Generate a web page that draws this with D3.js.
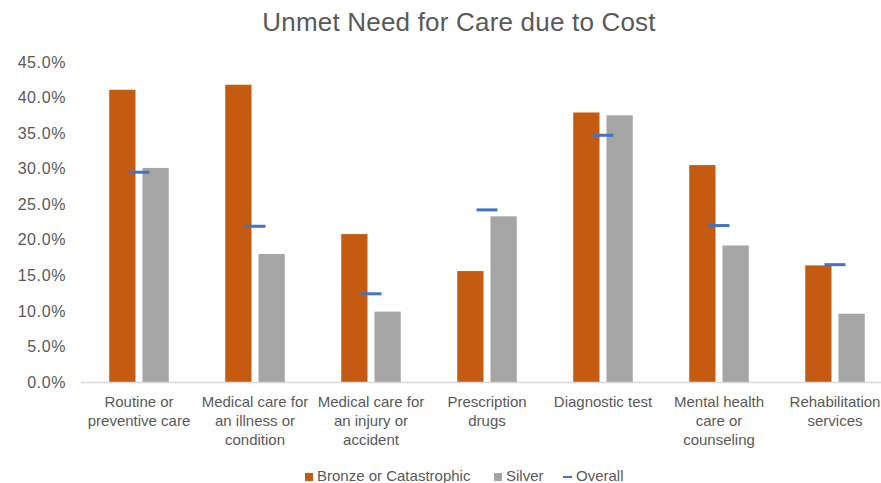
<!DOCTYPE html>
<html>
<head>
<meta charset="utf-8">
<script src="https://cdn.jsdelivr.net/npm/d3@7"></script>
<style>
  html, body { margin: 0; padding: 0; background: #fff; }
  svg { display: block; font-family: "Liberation Sans", Arial, sans-serif; }
</style>
</head>
<body>
<svg id="chart" width="881" height="483"></svg>
<script>
const title = "Unmet Need for Care due to Cost";
const categories = [
  "Routine or preventive care",
  "Medical care for an illness or condition",
  "Medical care for an injury or accident",
  "Prescription drugs",
  "Diagnostic test",
  "Mental health care or counseling",
  "Rehabilitation services"
];
const categoryLabelLines = [
  ["Routine or", "preventive care"],
  ["Medical care for", "an illness or", "condition"],
  ["Medical care for", "an injury or", "accident"],
  ["Prescription", "drugs"],
  ["Diagnostic test"],
  ["Mental health", "care or", "counseling"],
  ["Rehabilitation", "services"]
];
const seriesNames = ["Bronze or Catastrophic", "Silver", "Overall"];
const bronze  = [0.411, 0.418, 0.208, 0.156, 0.379, 0.305, 0.164];
const silver  = [0.301, 0.180, 0.099, 0.233, 0.375, 0.192, 0.096];
const overall = [0.295, 0.219, 0.124, 0.242, 0.347, 0.220, 0.165];
const yTicks = [0, 0.05, 0.10, 0.15, 0.20, 0.25, 0.30, 0.35, 0.40, 0.45];

const colors = { bronze: "#C55A11", silver: "#A5A5A5", overall: "#4472C4" };
const textColor = "#595959";

const svg = d3.select("#chart");

const plotLeft = 81, plotRight = 893, plotTop = 62, plotBottom = 382;

const x0 = d3.scaleBand().domain(categories).range([plotLeft, plotRight])
  .paddingInner(0.487).paddingOuter(0.2435);
const x1 = d3.scaleBand().domain(["bronze", "silver"]).range([0, x0.bandwidth()])
  .paddingInner(0.21).paddingOuter(0);
const y = d3.scaleLinear().domain([0, 0.45]).range([plotBottom, plotTop]);

// Title
svg.append("text")
  .attr("x", 459).attr("y", 31)
  .attr("text-anchor", "middle")
  .attr("fill", textColor)
  .style("font-size", "26px")
  .style("letter-spacing", "0.2px")
  .text(title);

// Y axis labels
const yAxis = d3.axisLeft(y).tickValues(yTicks).tickFormat(d3.format(".1%")).tickSize(0).tickPadding(0);
const yg = svg.append("g").attr("transform", `translate(66,0)`).call(yAxis);
yg.select(".domain").remove();
yg.selectAll("text").attr("fill", textColor).style("font-size", "16px")
  .style("letter-spacing", "0.6px")
  .style("font-family", "'Liberation Sans', Arial, sans-serif");

// Bars
const groups = svg.append("g").selectAll("g").data(categories).join("g")
  .attr("transform", d => `translate(${x0(d)},0)`);

groups.append("rect")
  .attr("x", x1("bronze")).attr("width", x1.bandwidth())
  .attr("y", (d, i) => y(bronze[i])).attr("height", (d, i) => y(0) - y(bronze[i]))
  .attr("fill", colors.bronze);

groups.append("rect")
  .attr("x", x1("silver")).attr("width", x1.bandwidth())
  .attr("y", (d, i) => y(silver[i])).attr("height", (d, i) => y(0) - y(silver[i]))
  .attr("fill", colors.silver);

// X axis line
svg.append("line")
  .attr("x1", plotLeft).attr("x2", plotRight)
  .attr("y1", y(0) + 0.5).attr("y2", y(0) + 0.5)
  .attr("stroke", "#D9D9D9").attr("stroke-width", 1.5);

// Overall markers
groups.append("rect")
  .attr("x", x0.bandwidth() / 2 - 10.5).attr("width", 21)
  .attr("y", (d, i) => y(overall[i]) - 1.5).attr("height", 3)
  .attr("fill", colors.overall);

// X labels
const xl = svg.append("g").selectAll("text").data(categories).join("text")
  .attr("x", d => x0(d) + x0.bandwidth() / 2)
  .attr("y", 407)
  .attr("text-anchor", "middle")
  .attr("fill", textColor)
  .style("font-size", "15px");
xl.each(function(d, i) {
  const t = d3.select(this);
  categoryLabelLines[i].forEach((line, j) => {
    t.append("tspan").attr("x", x0(d) + x0.bandwidth() / 2)
      .attr("dy", j === 0 ? 0 : 19).text(line);
  });
});

// Legend
const legendY = 477;
const leg = svg.append("g");
leg.append("rect").attr("x", 305).attr("y", legendY - 4).attr("width", 8).attr("height", 8).attr("fill", colors.bronze);
leg.append("text").attr("x", 317).attr("y", legendY + 4).attr("fill", textColor).style("font-size", "15px").text(seriesNames[0]);
leg.append("rect").attr("x", 494).attr("y", legendY - 4).attr("width", 8).attr("height", 8).attr("fill", colors.silver);
leg.append("text").attr("x", 506).attr("y", legendY + 4).attr("fill", textColor).style("font-size", "15px").text(seriesNames[1]);
leg.append("rect").attr("x", 563).attr("y", legendY - 1).attr("width", 9).attr("height", 2).attr("fill", colors.overall);
leg.append("text").attr("x", 576).attr("y", legendY + 4).attr("fill", textColor).style("font-size", "15px").text(seriesNames[2]);
</script>
</body>
</html>
